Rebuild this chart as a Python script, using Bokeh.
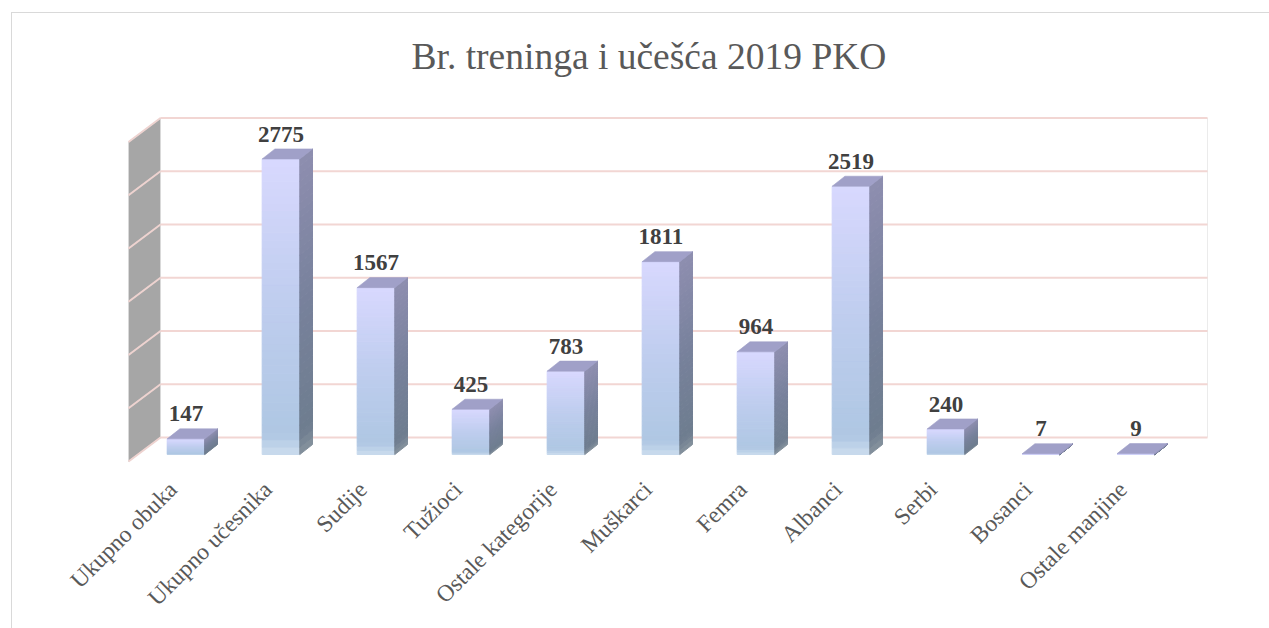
import numpy as np
from bokeh.plotting import figure
from bokeh.models import Range1d
from bokeh.core.properties import value
from bokeh.embed import file_html
from bokeh.resources import INLINE

# ---------------- data ----------------
categories = ["Ukupno obuka", "Ukupno učesnika", "Sudije", "Tužioci",
              "Ostale kategorije", "Muškarci", "Femra", "Albanci",
              "Serbi", "Bosanci", "Ostale manjine"]
values = [147, 2775, 1567, 425, 783, 1811, 964, 2519, 240, 7, 9]
grid_values = [0, 500, 1000, 1500, 2000, 2500, 3000]
title_text = "Br. treninga i učešća 2019 PKO"

# ---------------- style constants ----------------
XOFF = 0.10          # bar front centre offset from category position
BAR_W = 0.396        # front face width (index units)
DX = 0.134           # 3-D depth, horizontal (index units)
DY = 94.0            # 3-D depth, vertical (value units)
BACK_DY = 160.0      # back wall offset (value units)
WALL_FRONT_X = -0.505
WALL_BACK_X = -0.168
WALL_FRONT_DY = -65.0
BACK_RIGHT_X = 10.853
LABEL_GAP = 140.0
CAT_LABEL_DX = -0.04
CAT_LABEL_Y = -291.0
N_SLICES = 40

FONT = "Liberation Serif"


def hex_to_rgb(h):
    h = h.lstrip("#")
    return np.array([int(h[i:i + 2], 16) for i in (0, 2, 4)], dtype=float)


def grad(stops, t):
    for (t0, c0), (t1, c1) in zip(stops[:-1], stops[1:]):
        if t0 <= t <= t1:
            f = (t - t0) / (t1 - t0) if t1 > t0 else 0
            c = hex_to_rgb(c0) * (1 - f) + hex_to_rgb(c1) * f
            return "#%02x%02x%02x" % tuple(int(round(x)) for x in c)
    return stops[-1][1]


front_stops = [(0.0, "#CCDDEE"), (0.07, "#AFC7E3"), (0.5, "#BECDEE"), (1.0, "#D8D8FE")]
side_stops = [(0.0, "#86939E"), (0.07, "#6E7D8F"), (0.5, "#77819B"), (1.0, "#8E8EB0")]
top_color = "#A0A0C8"

p = figure(width=1258, height=616, output_backend="svg", toolbar_location=None,
           x_range=Range1d(-1.726, 11.516), y_range=Range1d(-1643.0, 3361.6),
           min_border_left=0, min_border_right=0, min_border_top=83,
           min_border_bottom=0, x_axis_location=None, y_axis_location=None,
           background_fill_color="white", border_fill_color="white",
           outline_line_color=None, title=title_text, margin=(12, 0, 0, 11))
p.styles = {"border-left": "1px solid #D9D9D9", "border-top": "1px solid #D9D9D9"}
p.grid.visible = False

p.title.align = "left"
p.title.offset = 399
p.title.text_font = FONT
p.title.text_font_style = "normal"
p.title.text_font_size = "37.5px"
p.title.text_color = "#595959"
p.title.standoff = 40

# ---------------- walls ----------------
# left wall
p.patch([WALL_FRONT_X, WALL_BACK_X, WALL_BACK_X, WALL_FRONT_X],
        [WALL_FRONT_DY, BACK_DY, grid_values[-1] + BACK_DY, grid_values[-1] + WALL_FRONT_DY],
        fill_color="#A6A6A6", line_color="#D9D9D9", line_width=1)
# back wall right edge
p.segment(x0=[BACK_RIGHT_X], y0=[BACK_DY], x1=[BACK_RIGHT_X], y1=[grid_values[-1] + BACK_DY],
          line_color="#EBEBEB", line_width=1)
# gridlines
gv = np.array(grid_values, dtype=float)
p.segment(x0=[WALL_BACK_X] * len(gv), y0=gv + BACK_DY, x1=[BACK_RIGHT_X] * len(gv), y1=gv + BACK_DY,
          line_color="#F2D6D3", line_width=2)
p.segment(x0=[WALL_FRONT_X] * len(gv), y0=gv + WALL_FRONT_DY, x1=[WALL_BACK_X] * len(gv), y1=gv + BACK_DY,
          line_color="#EED3D0", line_width=2)

# ---------------- bars ----------------
fl, fr, fb, ft, fc = [], [], [], [], []
sxs, sys_, sc = [], [], []
txs, tys = [], []
for i, v in enumerate(values):
    xc = i + XOFF
    xl, xr = xc - BAR_W / 2, xc + BAR_W / 2
    for k in range(N_SLICES):
        y0 = v * k / N_SLICES
        y1 = v * (k + 1) / N_SLICES
        t = (k + 0.5) / N_SLICES
        fl.append(xl); fr.append(xr); fb.append(y0); ft.append(y1)
        fc.append(grad(front_stops, t))
        sxs.append([xr, xr + DX, xr + DX, xr])
        sys_.append([y0, y0 + DY, y1 + DY, y1])
        sc.append(grad(side_stops, t))
    txs.append([xl, xr, xr + DX, xl + DX])
    tys.append([v, v, v + DY, v + DY])

p.quad(left=fl, right=fr, bottom=fb, top=ft, fill_color=fc, line_color=fc, line_width=1)
p.patches(sxs, sys_, fill_color=sc, line_color=sc, line_width=1)
p.patches(txs, tys, fill_color=top_color, line_color=top_color, line_width=0.6)

# data labels
p.text(x=[i + XOFF for i in range(len(values))], y=[v + DY + LABEL_GAP for v in values],
       text=[str(v) for v in values], text_align="center", text_baseline="alphabetic",
       text_font=value(FONT), text_font_style="bold", text_font_size="23px",
       text_color="#404040")

# category labels (rotated 45 degrees)
p.text(x=[i + CAT_LABEL_DX for i in range(len(categories))], y=[CAT_LABEL_Y] * len(categories),
       text=categories, angle=np.pi / 4, text_align="right", text_baseline="middle",
       text_font=value(FONT), text_font_size="23.5px", text_color="#595959")

open("out.html", "w").write(file_html(p, INLINE))
